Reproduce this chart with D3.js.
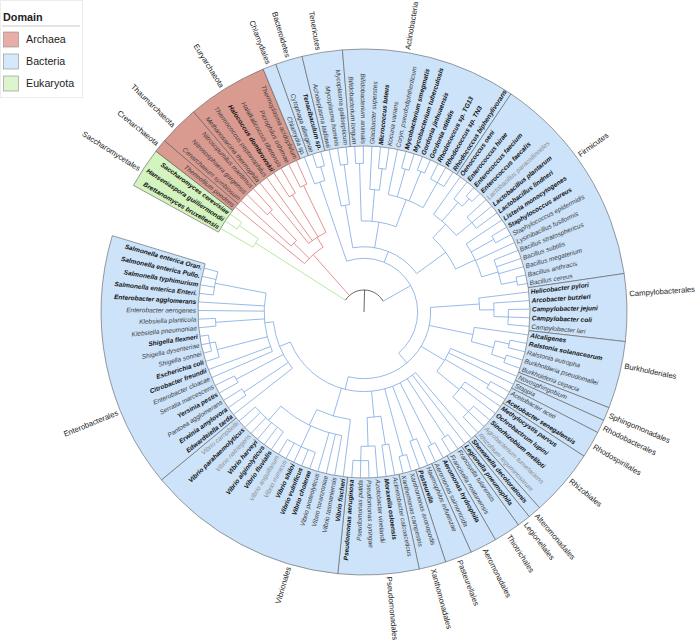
<!DOCTYPE html>
<html><head><meta charset="utf-8">
<script src="https://cdn.jsdelivr.net/npm/d3@7"></script>
<style>body{margin:0;background:#fff}</style>
</head><body>
<svg id="chart" width="696" height="644"></svg>
<script>
// ---------------- DATA ----------------
const leafNames = [
 "Brettanomyces bruxellensis","Hanseniaspora guilliermondii","Saccharomyces cerevisiae",
 "Thermofilum pendens","Cenarchaeum symbiosum","Nitrososphaera gargensis","Nitrosopumilus maritimus",
 "Methanosarcina thermophila","Thermococcus peptonophilus","Halococcus dombrowskii","Halalkalicoccus tibetensis",
 "Picrophilus oshimae","Thermoplasma acidophilum",
 "Chlamydia sp.","Cytophaga allerginae","Tenacibaculum sp.",
 "Acholeplasma laidlawii","Mycoplasma hominis","Mycoplasma gallisepticum",
 "Bifidobacterium longum","Bifidobacterium animalis","Glacibacter superstes","Micrococcus luteus","Kocuria varians",
 "Coryn. pseudodiphtheriticum","Mycobacterium smegmatis","Mycobacterium tuberculosis","Gordonia jinhuaensis",
 "Gordonia otitidis","Rhodococcus sp. TG13","Rhodococcus sp. TN3","Rhodococcus biphenylivorans",
 "Oenococcus oeni","Enterococcus hirae","Enterococcus faecium","Enterococcus faecalis","Lactobacillus paracollinoides",
 "Lactobacillus plantarum","Lactobacillus lindneri","Listeria monocytogenes","Staphylococcus aureus",
 "Staphylococcus epidermidis","Lysinibacillus fusiformis","Bacillus stratosphericus","Bacillus subtilis",
 "Bacillus megaterium","Bacillus anthracis","Bacillus cereus",
 "Helicobacter pylori","Arcobacter butzleri","Campylobacter jejuni","Campylobacter coli","Campylobacter lari",
 "Alcaligenes","Ralstonia solanacearum","Ralstonia eutropha","Burkholderia pseudomallei","Burkholderia cepacia",
 "Novosphingobium","Stappia","Acetobacter aceti","Acetobacter senegalensis","Methylocystis parvus",
 "Ochrobactrum lupini","Sinorhizobium meliloti","Agrobacterium tumefaciens","Rhizobium leguminosarum",
 "Shewanella decolorationis","Legionella pneumophila","Francisella tularensis","Francisella noatunensis",
 "Aeromonas hydrophila","Aeromonas salmonicida","Haemophilus influenzae","Pasteurella",
 "Xanthomonas axonopodis","Xanthomonas campestris","Acinetobacter calcoaceticus","Moraxella osloensis",
 "Azotobacter vinelandii","Pseudomonas syringae","Pseudomonas putida","Pseudomonas aeruginosa",
 "Vibrio fischeri","Vibrio tasmaniensis","Vibrio toranzoniae","Vibrio proteolyticus","Vibrio cholerae",
 "Vibrio vulnificus","Vibrio shiloi","Vibrio mimicus","Vibrio anguillarum","Vibrio fluvialis",
 "Vibrio alginolyticus","Vibrio harveyi","Vibrio natriegens","Vibrio parahaemolyticus","Vibrio campbellii",
 "Edwardsiella tarda","Erwinia amylovora","Pantoea agglomerans","Yersinia pestis","Serratia marcescens",
 "Enterobacter cloacae","Citrobacter freundii","Escherichia coli","Shigella sonnei","Shigella dysenteriae",
 "Shigella flexneri","Klebsiella pneumoniae","Klebsiella planticola","Enterobacter aerogenes",
 "Enterobacter agglomerans","Salmonella enterica Enteri.","Salmonella typhimurium",
 "Salmonella enterica Pullo.","Salmonella enterica Oran."
];
// b = bold, n = normal, g = grey
const leafStyle = (
 "bbb" + "nnnnnnbnnn" + "nnb" + "nnn" + "nnnbnnbbbbbbb" + "bbbbgbbbbnnnnnnn" + "bbbbn" +
 "bbnnn" + "n" + "n" + "nb" + "bbbgg" + "b" + "b" + "nn" + "bn" + "nb" + "nn" + "nbnnnb" +
 "bnnnbbbggbbbgbg" + "bbnbnnbbnnbnnnbbbbb").split("");

// tree topology: leaf indices; ")x" = depth of internal node (0 root .. 1 tips)
const treeNewick =
 "((0,(1,2)0.9)0.74," +
 "(3,(4,(5,6)0.8)0.53,(7,8,(9,10)0.8,(11,12)0.82)0.46)0.38," +
 "((13,(14,15)0.9)0.8," +
   "((16,(17,18)0.88)0.6," +
    "((19,20)0.88,(21,(22,23)0.85)0.7,(24,(25,26)0.88,(27,28)0.9,(29,30,31)0.88)0.68)0.48," +
    "((32,(33,(34,35)0.92)0.85,(36,37,38)0.82)0.68,(39,(40,41)0.88,42,(43,44,45,(46,47)0.93)0.82)0.7)0.55)0.3," +
   "((48,(49,(50,51,52)0.85)0.75)0.65," +
    "(53,((54,55)0.88,(56,57)0.88)0.78)0.62," +
    "(58,59,(60,61)0.85,(62,63,(64,65,66)0.85)0.7)0.5," +
    "(67,68,(69,70)0.88,(71,72)0.88,(73,74)0.8,(75,76)0.88," +
     "((77,78)0.78,(79,(80,81,82)0.88)0.78)0.58," +
     "(83,(84,85,86,(87,88,89,90,91)0.88,(92,93,94,95,96,97)0.85)0.72)0.6," +
     "(98,(99,100)0.85,(101,102)0.85,(103,104,(105,(106,107,108)0.94)0.9,(109,110)0.88,111,112,(113,114,115,116)0.9)0.54)0.48" +
    ")0.4)0.31)0.22)0";

const groupNames  = ["Saccharomycetales","Crenarchaeota","Thaumarchaeota","Euryarchaeota","Chlamydiales",
  "Bacteroidetes","Tenericutes","Actinobacteria","Firmicutes","Campylobacterales","Burkholderiales",
  "Sphingomonadales","Rhodobacterales","Rhodospirillales","Rhizobiales","Alteromonadales","Legionellales",
  "Thiotrichales","Aeromonadales","Pasteurellales","Xanthomonadales","Pseudomonadales","Vibrionales","Enterobacterales"];
const groupStart  = [0,3,4,7,13,14,16,19,32,48,53,58,59,60,62,67,68,69,71,73,75,77,83,98];
const groupEnd    = [2,3,6,12,13,15,18,31,47,52,57,58,59,61,66,67,68,70,72,74,76,82,97,116];

const domains = ["Archaea","Bacteria","Eukaryota"];
const domainStart = [3,13,0];
const domainEnd   = [12,116,2];
const domainWedge = ["#d99a90","#cde3f9","#d3f3bf"];
const domainLegend = ["#e6aea6","#d6e8fb","#dcf5cc"];
const domainBranch = ["#e26c68","#74a3e2","#a3e07c"];

// ---------------- LAYOUT ----------------
const W = 696, H = 644, cx = 364, cy = 312;
const rRoot = 22, rTip = 166, rOuter = 263;
const nSlots = 121, angleStart = -59.74;
const angle = d3.scaleLinear().domain([0, nSlots]).range([angleStart, angleStart + 360]);
const radius = d3.scaleLinear().domain([0, 1]).range([rRoot, rTip]);

function parseTree(s){
  let i = 0;
  function node(){
    if (s[i] === "("){
      i++; const children = [];
      for(;;){ children.push(node()); if (s[i] === ","){ i++; continue; } if (s[i] === ")"){ i++; break; } }
      const m = /^[0-9.]+/.exec(s.slice(i)); let depth = 0;
      if (m){ depth = +m[0]; i += m[0].length; }
      return {children, depth};
    }
    const m = /^[0-9]+/.exec(s.slice(i)); i += m[0].length;
    return {leaf: +m[0], depth: 1};
  }
  return node();
}
const root = d3.hierarchy(parseTree(treeNewick));
function domainOf(k){ for (let d=0; d<3; d++) if (k>=domainStart[d] && k<=domainEnd[d]) return d; return -1; }
root.eachAfter(n => {
  if (!n.children){ n.ang = angle(n.data.leaf); n.dom = domainOf(n.data.leaf); }
  else {
    n.ang = (n.children[0].ang + n.children[n.children.length-1].ang) / 2;
    const ds = new Set(n.children.map(c => c.dom));
    n.dom = ds.size === 1 ? n.children[0].dom : -1;
  }
  n.r = radius(n.data.depth);
});

const rad = a => a * Math.PI / 180;
const px = (a, r) => [cx + r * Math.sin(rad(a)), cy - r * Math.cos(rad(a))];

const svg = d3.select("#chart");
svg.append("rect").attr("width", W).attr("height", H).attr("fill", "#fff");

// ---------------- WEDGES ----------------
const wedge = d3.arc().innerRadius(rTip).outerRadius(rOuter);
const gW = svg.append("g").attr("transform", `translate(${cx},${cy})`);
groupNames.forEach((g, i) => {
  const dm = domainOf(groupStart[i]);
  gW.append("path")
    .attr("d", wedge({startAngle: rad(angle(groupStart[i] - 0.5)), endAngle: rad(angle(groupEnd[i] + 0.5))}))
    .attr("fill", domainWedge[dm]).attr("stroke", "#5a5a5a").attr("stroke-width", 0.6);
});

// ---------------- BRANCHES ----------------
const gB = svg.append("g").attr("fill", "none").attr("stroke-width", 0.75);
function arcPath(r, a1, a2){
  const p = d3.path();
  p.arc(cx, cy, r, rad(a1 - 90), rad(a2 - 90), a2 < a1);
  return p.toString();
}
function linePath(a, r1, r2){
  const p1 = px(a, r1), p2 = px(a, r2);
  return `M${p1[0]},${p1[1]}L${p2[0]},${p2[1]}`;
}
gB.append("path").attr("d", linePath(root.ang, 0, root.r)).attr("stroke", "#333");
root.each(n => {
  const col = n.dom >= 0 ? domainBranch[n.dom] : "#333";
  if (n.parent) gB.append("path").attr("d", linePath(n.ang, n.parent.r, n.r)).attr("stroke", col);
  if (n.children){
    const a1 = n.children[0].ang, a2 = n.children[n.children.length-1].ang;
    gB.append("path").attr("d", arcPath(n.r, a1, a2)).attr("stroke", col);
  }
});

// ---------------- LEAF LABELS ----------------
function placeText(sel, a, r){
  const an = ((a % 360) + 360) % 360;
  const left = an > 180;
  sel.attr("transform", `translate(${cx},${cy}) rotate(${an - 90}) translate(${r},0)` + (left ? " rotate(180)" : ""))
     .attr("text-anchor", left ? "end" : "start")
     .attr("dy", "0.35em");
}
const gL = svg.append("g").attr("font-family", "'Liberation Sans', Arial, sans-serif")
  .attr("font-size", 6.5).attr("font-style", "italic");
root.leaves().forEach(n => {
  const st = leafStyle[n.data.leaf];
  const t = gL.append("text").text(leafNames[n.data.leaf])
    .attr("font-weight", st === "b" ? "bold" : "normal")
    .attr("fill", st === "b" ? "#111" : st === "g" ? "#8c8c8c" : "#3c3c3c");
  placeText(t, n.ang, rTip + 2);
});

// ---------------- GROUP LABELS ----------------
const leafNode = {};
root.leaves().forEach(n => leafNode[n.data.leaf] = n);
const gG = svg.append("g").attr("font-family", "'Liberation Sans', Arial, sans-serif")
  .attr("font-size", 7.7).attr("fill", "#222");
groupNames.forEach((g, i) => {
  let node = leafNode[groupStart[i]];
  if (groupEnd[i] !== groupStart[i]) {
    const path = node.path(leafNode[groupEnd[i]]);
    node = path.reduce((a, b) => (b.depth < a.depth ? b : a));
  }
  const t = gG.append("text").text(g);
  placeText(t, node.ang, rOuter + 3);
});

// ---------------- LEGEND ----------------
const gLeg = svg.append("g").attr("font-family", "'Liberation Sans', Arial, sans-serif");
gLeg.append("rect").attr("x", 0.5).attr("y", 0.5).attr("width", 82).attr("height", 97)
  .attr("fill", "#fff").attr("stroke", "#ececec");
gLeg.append("text").text("Domain").attr("x", 3).attr("y", 20.5).attr("font-size", 10.8)
  .attr("font-weight", "bold").attr("fill", "#222");
gLeg.append("line").attr("x1", 2).attr("x2", 80).attr("y1", 26).attr("y2", 26)
  .attr("stroke", "#bbb").attr("stroke-width", 0.8);
domains.forEach((d, i) => {
  const y = 32 + i * 22;
  gLeg.append("rect").attr("x", 3.5).attr("y", y).attr("width", 15).attr("height", 15)
    .attr("fill", domainLegend[i]).attr("stroke", "#8a8a8a").attr("stroke-width", 0.6);
  gLeg.append("text").text(d).attr("x", 26).attr("y", y + 11.3).attr("font-size", 10.7).attr("fill", "#222");
});
</script>
</body></html>
